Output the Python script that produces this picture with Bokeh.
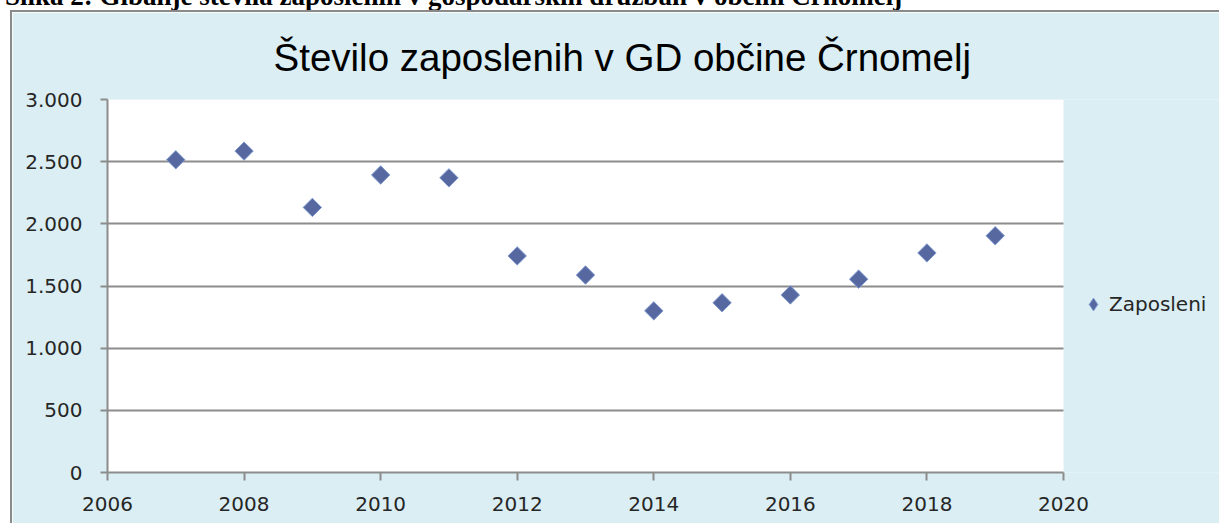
from bokeh.plotting import figure
from bokeh.layouts import column
from bokeh.models import FixedTicker, Legend, LegendItem, BoxAnnotation, Range1d, Div
from bokeh.embed import file_html
from bokeh.resources import INLINE
import numpy as np

# ---- data ----
years = [2007, 2008, 2009, 2010, 2011, 2012, 2013, 2014, 2015, 2016, 2017, 2018, 2019]
zaposleni = [2515, 2585, 2132, 2393, 2370, 1742, 1588, 1300, 1365, 1428, 1555, 1766, 1904]
series_name = "Zaposleni"
title_text = "Število zaposlenih v GD občine Črnomelj"
caption_text = "Slika 2: Gibanje števila zaposlenih v gospodarskih družbah v občini Črnomelj"
x_ticks = [2006, 2008, 2010, 2012, 2014, 2016, 2018, 2020]
y_ticks = [0, 500, 1000, 1500, 2000, 2500, 3000]
y_tick_labels = ["0", "500", "1.000", "1.500", "2.000", "2.500", "3.000"]

BG = "#DAEEF3"
GRID = "#8C8C8C"
TXT = "#262626"
MARK_FILL = "#57679F"
MARK_LINE = "#7E9AD0"

# layout (pixels): chart box starts at (12, 12) of the page
W, H = 1209, 513
LEFT, TOP, BOTTOM = 95, 87, 53
PLOT_W = 956                          # white plot area width for the x span
frame_w = W - LEFT
x_end = x_ticks[0] + (x_ticks[-1] - x_ticks[0]) * frame_w / PLOT_W

p = figure(width=W, height=H, output_backend="svg", toolbar_location=None,
           x_range=Range1d(x_ticks[0], x_end), y_range=Range1d(y_ticks[0], y_ticks[-1]),
           min_border_left=LEFT, min_border_right=0, min_border_top=TOP,
           min_border_bottom=BOTTOM)
p.border_fill_color = BG
p.background_fill_color = BG
p.outline_line_color = None
p.styles = {"margin-left": "10px", "border-left": "2px solid #8A8A8A",
            "border-top": "2px solid #8A8A8A"}

# white plot area
p.add_layout(BoxAnnotation(left=x_ticks[0], right=x_ticks[-1], bottom=y_ticks[0],
                           top=y_ticks[-1], fill_color="white", fill_alpha=1,
                           line_color=None, level="image"))

# title
p.title.text = title_text
p.title.text_font = "Liberation Sans"
p.title.text_font_size = "38.5px"
p.title.text_font_style = "normal"
p.title.text_color = "black"
p.title.align = "left"
p.title.offset = 166
p.title.standoff = 41

# axes
for ax in (p.xaxis[0], p.yaxis[0]):
    ax.axis_line_color = GRID
    ax.axis_line_width = 2
    ax.major_tick_line_color = GRID
    ax.major_tick_line_width = 2
    ax.major_tick_in = 0
    ax.minor_tick_line_color = None
    ax.major_label_text_font = "DejaVu Sans"
    ax.major_label_text_font_size = "20px"
    ax.major_label_text_color = TXT

p.xaxis.ticker = FixedTicker(ticks=x_ticks)
p.xaxis.bounds = (x_ticks[0], x_ticks[-1])
p.xaxis.major_tick_out = 8
p.xaxis.major_label_standoff = 16
p.yaxis.ticker = FixedTicker(ticks=y_ticks)
p.yaxis.major_tick_out = 7
p.yaxis.major_label_standoff = 18
p.yaxis.major_label_overrides = {t: l for t, l in zip(y_ticks, y_tick_labels)}

p.xgrid.grid_line_color = None
p.ygrid.ticker = FixedTicker(ticks=y_ticks)
p.ygrid.cross_bounds = (x_ticks[0], x_ticks[-1])
p.ygrid.grid_line_color = GRID
p.ygrid.grid_line_width = 2

r = p.scatter(years, zaposleni, marker="square", angle=np.pi / 4, size=13,
              fill_color=MARK_FILL, line_color=MARK_LINE, line_width=1)
# legend key: diamond symbol for the series (no point drawn on the plot)
key = p.scatter([np.nan], [np.nan], marker="diamond", size=13,
                fill_color=MARK_FILL, line_color=MARK_LINE, line_width=1)

legend = Legend(items=[LegendItem(label=series_name, renderers=[key])],
                location=(970, 152), orientation="vertical",
                background_fill_alpha=0, border_line_color=None,
                padding=0, margin=0, glyph_width=32, glyph_height=32,
                label_standoff=-1, label_text_font="DejaVu Sans",
                label_text_font_size="20px", label_text_color=TXT)
p.add_layout(legend)

cap = Div(text=caption_text, width=1221, height=22,
          styles={"margin-top": "-17px", "font-family": "'Liberation Serif', serif",
                  "font-size": "27px", "font-weight": "bold", "line-height": "27px",
                  "white-space": "nowrap", "color": "black"})

layout = column(cap, p, spacing=0)
open("out.html", "w").write(file_html(layout, INLINE))
